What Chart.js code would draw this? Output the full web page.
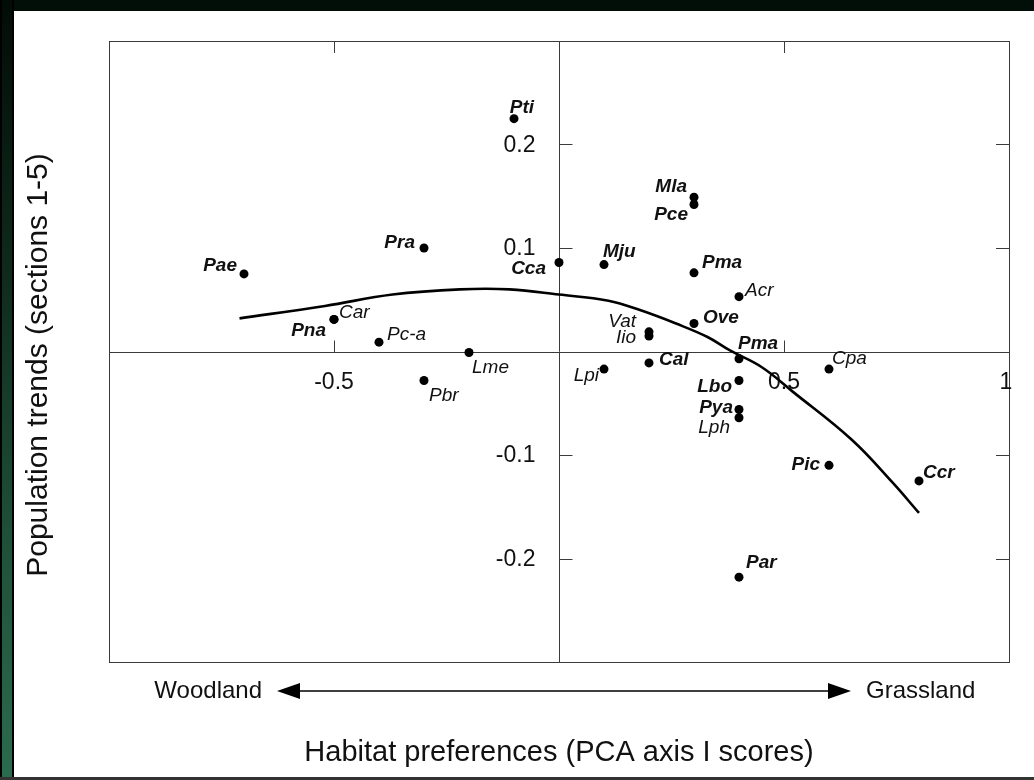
<!DOCTYPE html>
<html>
<head>
<meta charset="utf-8">
<script src="https://cdn.jsdelivr.net/npm/chart.js@4.4.1/dist/chart.umd.min.js"></script>
<style>
	html, body { margin: 0; padding: 0; background: #fff; }
	#wrap { position: relative; width: 1034px; height: 780px; overflow: hidden; background: #fff; }
	#plot { position: absolute; left: 0; top: 0; }
	.band { position: absolute; z-index: 2; }
	#topBand { left: 0; top: 0; width: 1034px; height: 11px; background: #020f08; }
	#leftBand { left: 0; top: 0; width: 14px; height: 780px;
		background: linear-gradient(to bottom, #020c06 0%, #0f2a1d 35%, #1f5139 70%, #2b6b4e 100%);
		border-left: 2px solid #000; border-right: 2px solid #000; box-sizing: border-box; }
	#bottomBand { left: 0; top: 777px; width: 1034px; height: 3px; background: #333; }
</style>
</head>
<body>
<div id="wrap">
	<canvas id="plot" width="1034" height="780"></canvas>
	<div class="band" id="topBand"></div>
	<div class="band" id="leftBand"></div>
	<div class="band" id="bottomBand"></div>
</div>
<script>
// species codes and their scores
const speciesCodes = ["Pti", "Pra", "Pae", "Cca", "Car", "Pna", "Pc-a", "Lme", "Pbr",
	"Mla", "Pce", "Mju", "Pma", "Acr", "Ove", "Vat", "Iio", "Pma", "Cal", "Lpi",
	"Lbo", "Cpa", "Pya", "Lph", "Pic", "Ccr", "Par"]
const habitatScores = [-0.1, -0.3, -0.7, 0, -0.5, -0.5, -0.4, -0.2, -0.3,
	0.3, 0.3, 0.1, 0.3, 0.4, 0.3, 0.2, 0.2, 0.4, 0.2, 0.1,
	0.4, 0.6, 0.4, 0.4, 0.6, 0.8, 0.4]
const trendScores = [0.225, 0.100, 0.075, 0.086, 0.031, 0.031, 0.009, -0.001, -0.028,
	0.149, 0.142, 0.084, 0.076, 0.053, 0.027, 0.019, 0.015, -0.007, -0.011, -0.017,
	-0.028, -0.017, -0.056, -0.064, -0.110, -0.125, -0.218]

// fitted trend curve
const curveX = [-0.71, -0.52, -0.37, -0.22, -0.11, 0, 0.11, 0.18, 0.26, 0.33, 0.38, 0.45, 0.52, 0.65, 0.74, 0.80]
const curveY = [0.032, 0.044, 0.055, 0.060, 0.060, 0.055, 0.049, 0.040, 0.027, 0.014, 0.001, -0.015, -0.039, -0.085, -0.126, -0.156]

// axis ticks
const xTickLabels = [-0.5, 0.5, 1]
const yTickLabels = [-0.2, -0.1, 0.1, 0.2]

// label layout (offset from dot in px, alignment, bold or not) - same order as speciesCodes
const labelLayout = [
	[8, -11, "center", true], [-9, -5, "right", true], [-7, -8, "right", true], [-13, 6, "right", true],
	[5, -7, "left", false], [-8, 11, "right", true], [8, -7, "left", false], [3, 15, "left", false],
	[5, 15, "left", false], [-7, -11, "right", true], [-6, 10, "right", true], [-1, -13, "left", true],
	[8, -10, "left", true], [6, -6, "left", false], [9, -6, "left", true], [-13, -10, "right", false],
	[-13, 2, "right", false], [-1, -15, "left", true], [10, -3, "left", true], [-5, 7, "right", false],
	[-7, 6, "right", true], [3, -10, "left", false], [-6, -2, "right", true], [-9, 10, "right", false],
	[-9, -1, "right", true], [4, -8, "left", true], [7, -14, "left", true]
]

const FONT = "'Liberation Sans', Arial, Helvetica, sans-serif"

const axesPlugin = {
	id: "axesPlugin",
	beforeDatasetsDraw(chart) {
		const ctx = chart.ctx
		const a = chart.chartArea
		const xs = chart.scales.x
		const ys = chart.scales.y
		const x0 = Math.round(xs.getPixelForValue(0)) + 0.5
		const y0 = Math.round(ys.getPixelForValue(0)) + 0.5
		ctx.save()
		ctx.strokeStyle = "#3a3a3a"
		ctx.lineWidth = 1
		// frame
		ctx.strokeRect(Math.round(a.left) + 0.5, Math.round(a.top) + 0.5, Math.round(a.right - a.left), Math.round(a.bottom - a.top))
		// zero lines
		ctx.beginPath()
		ctx.moveTo(x0, a.top); ctx.lineTo(x0, a.bottom)
		ctx.moveTo(a.left, y0); ctx.lineTo(a.right, y0)
		ctx.stroke()
		// y ticks
		ctx.beginPath()
		yTickLabels.forEach(v => {
			const p = Math.round(ys.getPixelForValue(v)) + 0.5
			ctx.moveTo(x0, p); ctx.lineTo(x0 + 13, p)
			ctx.moveTo(a.right, p); ctx.lineTo(a.right - 13, p)
		})
		// x ticks
		xTickLabels.forEach(v => {
			if (v >= 1) return
			const p = Math.round(xs.getPixelForValue(v)) + 0.5
			ctx.moveTo(p, y0); ctx.lineTo(p, y0 - 12)
			ctx.moveTo(p, a.top); ctx.lineTo(p, a.top + 12)
		})
		ctx.stroke()

		// tick labels
		ctx.fillStyle = "#111"
		ctx.font = "23px " + FONT
		ctx.textBaseline = "middle"
		ctx.textAlign = "right"
		yTickLabels.forEach(v => {
			ctx.fillText(String(v), x0 - 24, ys.getPixelForValue(v) + 1)
		})
		ctx.textAlign = "center"
		xTickLabels.forEach(v => {
			let p = xs.getPixelForValue(v)
			if (v >= 1) p -= 3
			ctx.fillText(String(v), p, y0 + 30)
		})
		ctx.restore()
	},
	afterDatasetsDraw(chart) {
		const ctx = chart.ctx
		const a = chart.chartArea
		const xs = chart.scales.x
		const ys = chart.scales.y
		ctx.save()
		ctx.fillStyle = "#111"
		ctx.textBaseline = "middle"
		speciesCodes.forEach((code, i) => {
			const lay = labelLayout[i]
			const px = xs.getPixelForValue(habitatScores[i])
			const py = ys.getPixelForValue(trendScores[i])
			ctx.font = (lay[3] ? "italic bold " : "italic ") + "19px " + FONT
			ctx.textAlign = lay[2]
			ctx.fillText(code, px + lay[0], py + lay[1])
		})

		// habitat gradient arrow
		const ay = a.bottom + 29
		const left = 277, right = 851
		ctx.strokeStyle = "#000"
		ctx.lineWidth = 1.5
		ctx.beginPath()
		ctx.moveTo(left + 10, ay); ctx.lineTo(right - 10, ay)
		ctx.stroke()
		ctx.fillStyle = "#000"
		ctx.beginPath()
		ctx.moveTo(left, ay); ctx.lineTo(left + 23, ay - 8); ctx.lineTo(left + 23, ay + 8); ctx.closePath()
		ctx.fill()
		ctx.beginPath()
		ctx.moveTo(right, ay); ctx.lineTo(right - 23, ay - 8); ctx.lineTo(right - 23, ay + 8); ctx.closePath()
		ctx.fill()
		ctx.font = "24px " + FONT
		ctx.fillStyle = "#111"
		ctx.textAlign = "right"
		ctx.fillText("Woodland", left - 15, ay)
		ctx.textAlign = "left"
		ctx.fillText("Grassland", right + 15, ay)

		// axis titles
		ctx.font = "29px " + FONT
		ctx.textAlign = "center"
		ctx.fillText("Habitat preferences (PCA axis I scores)", (a.left + a.right) / 2, 753)
		ctx.save()
		ctx.translate(39, 365)
		ctx.rotate(-Math.PI / 2)
		ctx.font = "30px " + FONT
		ctx.fillText("Population trends (sections 1-5)", 0, 0)
		ctx.restore()
		ctx.restore()
	}
}

const points = speciesCodes.map((c, i) => ({ x: habitatScores[i], y: trendScores[i] }))
const curve = curveX.map((x, i) => ({ x: x, y: curveY[i] }))

new Chart(document.getElementById("plot").getContext("2d"), {
	type: "scatter",
	data: {
		datasets: [
			{
				label: "species",
				data: points,
				pointRadius: 4.5,
				pointBackgroundColor: "#000",
				pointBorderWidth: 0,
				showLine: false
			},
			{
				label: "trend",
				data: curve,
				showLine: true,
				pointRadius: 0,
				borderColor: "#000",
				borderWidth: 2.6,
				tension: 0.4
			}
		]
	},
	options: {
		responsive: false,
		animation: false,
		devicePixelRatio: 1,
		layout: { padding: { left: 109, top: 41, right: 25, bottom: 118 } },
		plugins: { legend: { display: false }, tooltip: { enabled: false } },
		scales: {
			x: { type: "linear", min: -1, max: 1, display: false },
			y: { type: "linear", min: -0.3, max: 0.3, display: false }
		}
	},
	plugins: [axesPlugin]
})
</script>
</body>
</html>
